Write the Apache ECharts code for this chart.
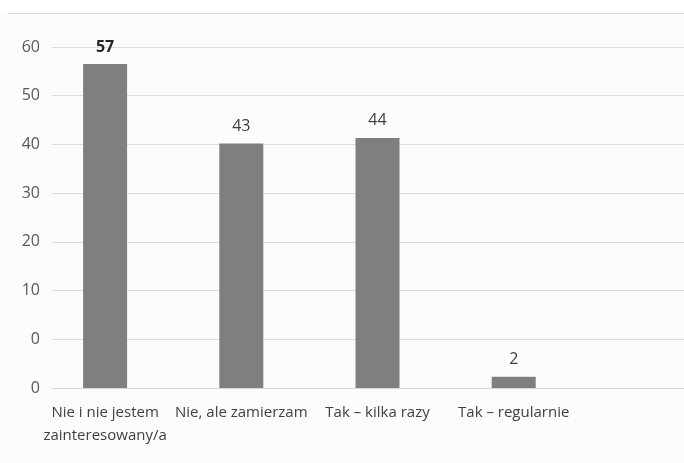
<!DOCTYPE html>
<html>
<head>
<meta charset="utf-8">
<script src="https://cdn.jsdelivr.net/npm/echarts@6/dist/echarts.min.js"></script>
<style>
  html, body { margin: 0; padding: 0; background: #fdfdfd; }
  #chart { width: 684px; height: 463px; }
</style>
</head>
<body>
<div id="chart"></div>
<script>
// Survey answers and counts
const categories = ['Nie i nie jestem\nzainteresowany/a', 'Nie, ale zamierzam', 'Tak – kilka razy', 'Tak – regularnie', ''];
const values = [57, 43, 44, 2, null];
// Value-axis labels, bottom to top
const yTickLabels = ['0', '0', '10', '20', '30', '40', '50', '60'];

const yMax = 60;
const yStep = yMax / (yTickLabels.length - 1);
const font = '"Open Sans", "Noto Sans", sans-serif';

const chart = echarts.init(document.getElementById('chart'), null, { renderer: 'canvas' });

chart.setOption({
  backgroundColor: '#fcfcfc',
  animation: false,
  grid: { left: 37, width: 681, top: 47, height: 341, outerBoundsMode: 'none', containLabel: false },
  xAxis: {
    type: 'category',
    data: categories,
    axisLine: { show: true, lineStyle: { color: '#d9d9d9', width: 1 } },
    axisTick: { show: false },
    axisLabel: {
      interval: 0,
      margin: 13,
      fontFamily: font,
      fontSize: 15,
      lineHeight: 23,
      color: '#404040'
    }
  },
  yAxis: {
    type: 'value',
    min: 0,
    max: yMax,
    interval: yStep,
    axisLine: { show: false },
    axisTick: { show: false },
    splitLine: { lineStyle: { color: '#dcdcdc', width: 1 } },
    axisLabel: {
      margin: -15,
      padding: [2, 12, 2, 6],
      backgroundColor: '#fcfcfc',
      fontFamily: font,
      fontSize: 16,
      color: '#595959',
      formatter: function (v) {
        const i = Math.round(v / yStep);
        return yTickLabels[i] !== undefined ? yTickLabels[i] : '';
      }
    }
  },
  series: [{
    type: 'bar',
    data: values.map(function (v, i) {
      return {
        value: v,
        label: i === 0 ? { fontWeight: 'bold', color: '#262626' } : {}
      };
    }),
    barWidth: 44,
    itemStyle: { color: '#7f7f7f' },
    label: {
      show: true,
      position: 'top',
      distance: 9,
      fontFamily: font,
      fontSize: 16,
      color: '#404040'
    }
  }],
  graphic: [{
    type: 'rect',
    shape: { x: 0, y: 0, width: 684, height: 13 },
    style: { fill: '#ffffff' },
    z: -1
  }, {
    type: 'line',
    shape: { x1: 8, y1: 13.5, x2: 684, y2: 13.5 },
    style: { stroke: '#d6d6d6', lineWidth: 1 }
  }]
});
</script>
</body>
</html>
